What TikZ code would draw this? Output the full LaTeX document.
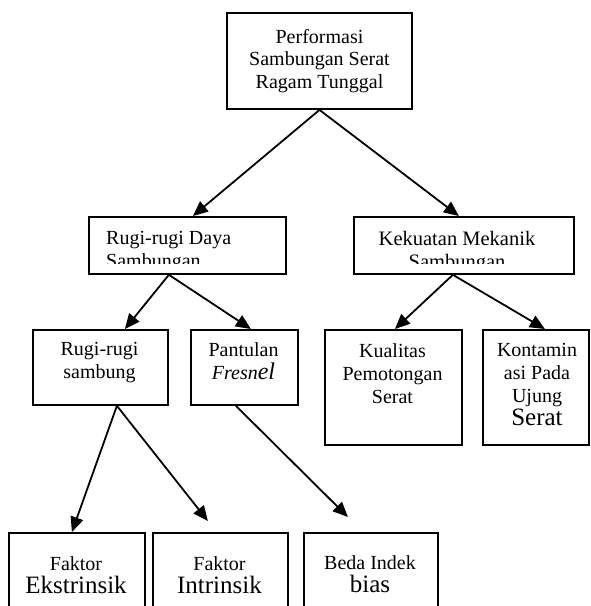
\documentclass[tikz,border=0pt]{standalone}
\usepackage{fontspec}
\setmainfont{Liberation Serif}
\usetikzlibrary{arrows.meta}

\begin{document}
\begin{tikzpicture}[x=1pt, y=-1pt,
    box/.style={draw, line width=1.8pt, inner sep=0pt, anchor=north west},
    txt/.style={align=center, inner sep=0pt, anchor=north, font=\fontsize{20}{23}\selectfont},
    panah/.style={-{Triangle[length=15pt, width=13pt]}, line width=1.8pt}]
      \useasboundingbox (0,0) rectangle (590,606);

      \node[box, anchor=center, minimum width=185pt, minimum height=96pt, align=center,
            font=\fontsize{20}{22.5}\selectfont] (perf) at (319.5,61)
            {Performasi\\Sambungan Serat\\Ragam Tunggal};
      \node[box, minimum width=197pt, minimum height=57pt] (daya) at (88,216) {};
      \node[box, minimum width=220pt, minimum height=57pt] (kek) at (353,216) {};
      \node[box, minimum width=135pt, minimum height=75pt] (sambung) at (32,329) {};
      \node[box, minimum width=107pt, minimum height=75pt] (pantul) at (190,329) {};
      \node[box, minimum width=137pt, minimum height=115pt] (kual) at (324,329) {};
      \node[box, minimum width=106pt, minimum height=115pt] (kont) at (482,329) {};
      \node[box, minimum width=136pt, minimum height=100pt] (ekst) at (8,532) {};
      \node[box, minimum width=135pt, minimum height=100pt] (intr) at (152,532) {};
      \node[box, minimum width=134pt, minimum height=100pt] (beda) at (303,532) {};

      % teks yang terpotong
      \begin{scope}
        \clip (88,216) rectangle (573,263);
        \node[txt, anchor=north west, align=left] (dayatxt) at (106,231) {Rugi-rugi Daya\\Sambungan};
        \node[txt, font=\fontsize{20.5}{23}\selectfont] (kektxt) at (457,231) {Kekuatan Mekanik\\Sambungan};
      \end{scope}

      \node[txt] (sambungtxt) at (99.5,342) {Rugi-rugi\\sambung};
      \node[txt] (pantultxt) at (243.5,342) {Pantulan\\{\itshape Fresn\fontsize{24}{23}\selectfont el}};
      \node[txt] (kualtxt) at (392.5,343) {Kualitas\\Pemotongan\\Serat};
      \node[txt] (konttxt) at (537,343) {Kontamin\\asi Pada\\Ujung\\\fontsize{25}{25}\selectfont Serat};
      \node[txt] (eksttxt) at (76,556) {Faktor\\\fontsize{25}{20}\selectfont Ekstrinsik};
      \node[txt] (intrtxt) at (219.5,556) {Faktor\\\fontsize{25}{20}\selectfont Intrinsik};
      \node[txt] (bedatxt) at (370,555) {Beda Indek\\\fontsize{25}{20}\selectfont bias};

      % panah
      \draw[panah] (perf.south) -- ([xshift=5.5pt]daya.north);
      \draw[panah] (perf.south) -- ([xshift=-5pt]kek.north);
      \draw[panah] ([xshift=-18.5pt]daya.south) -- ([xshift=24.5pt]sambung.north);
      \draw[panah] ([xshift=-18.5pt]daya.south) -- ([xshift=6.5pt]pantul.north);
      \draw[panah] ([xshift=-11pt]kek.south) -- ([xshift=1.5pt]kual.north);
      \draw[panah] ([xshift=-11pt]kek.south) -- ([xshift=9pt]kont.north);
      \draw[panah] ([xshift=16.5pt]sambung.south) -- ([xshift=-5pt]ekst.north);
      \draw[panah] ([xshift=16.5pt]sambung.south) -- ([xshift=-12.5pt, yshift=11pt]intr.north);
      \draw[panah] ([xshift=-8.5pt]pantul.south) -- ([xshift=-23pt, yshift=15pt]beda.north);
    \end{tikzpicture}
\end{document}
